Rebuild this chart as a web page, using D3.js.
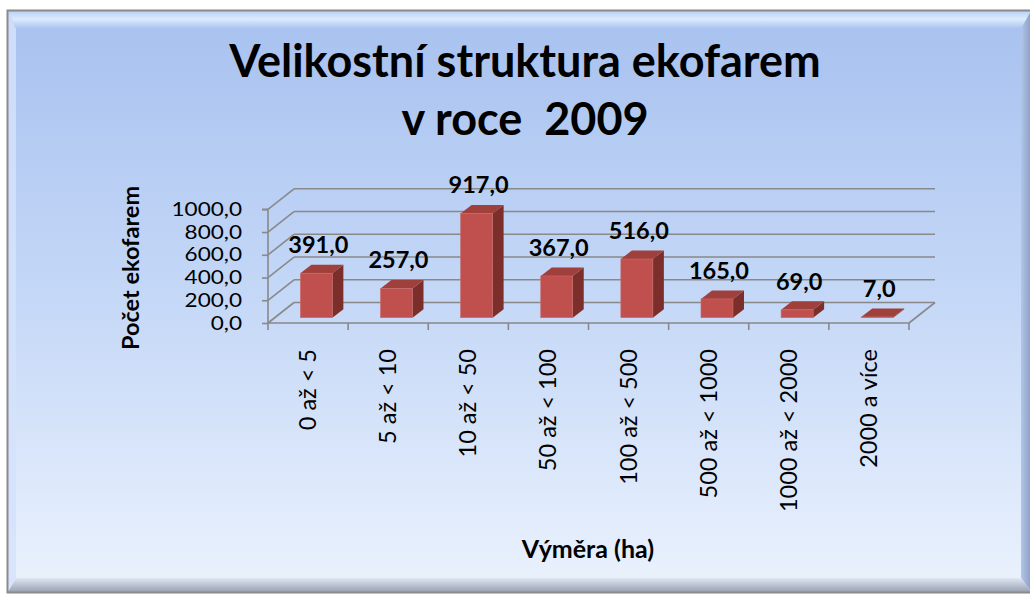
<!DOCTYPE html>
<html><head><meta charset="utf-8">
<script src="https://cdn.jsdelivr.net/npm/d3@7"></script>
<style>html,body{margin:0;padding:0;background:#fff;}svg{display:block;}</style>
</head><body>
<script>
const categories = ["0 až < 5","5 až < 10","10 až < 50","50 až < 100","100 až < 500","500 až < 1000","1000 až < 2000","2000 a více"];
const values = [391,257,917,367,516,165,69,7];
const yTicks = [0,200,400,600,800,1000];
const titleLines = ["Velikostní struktura ekofarem","v roce  2009"];
const yTitle = "Počet ekofarem";
const xTitle = "Výměra (ha)";

const W = 1030, H = 594;
const svg = d3.select("body").append("svg").attr("width", W).attr("height", H);
const defs = svg.append("defs");
const bg = defs.append("linearGradient").attr("id","bg").attr("x1",0).attr("y1",0).attr("x2",0).attr("y2",1);
bg.append("stop").attr("offset","0%").attr("stop-color","#a7c1ef");
bg.append("stop").attr("offset","50%").attr("stop-color","#c5d8f7");
bg.append("stop").attr("offset","100%").attr("stop-color","#ebf2fd");
const topB = defs.append("linearGradient").attr("id","topB").attr("x1",0).attr("y1",0).attr("x2",0).attr("y2",1);
topB.append("stop").attr("offset","0%").attr("stop-color","#b9d0f5");
topB.append("stop").attr("offset","45%").attr("stop-color","#dcebfd");
topB.append("stop").attr("offset","100%").attr("stop-color","#a9c2ef");
const botB = defs.append("linearGradient").attr("id","botB").attr("x1",0).attr("y1",0).attr("x2",0).attr("y2",1);
botB.append("stop").attr("offset","0%").attr("stop-color","#dfe7f5");
botB.append("stop").attr("offset","60%").attr("stop-color","#b5bccb");
botB.append("stop").attr("offset","100%").attr("stop-color","#9aa2b3");
const rightB = defs.append("linearGradient").attr("id","rightB").attr("x1",0).attr("y1",0).attr("x2",1).attr("y2",0);
rightB.append("stop").attr("offset","0%").attr("stop-color","#b2c6ea");
rightB.append("stop").attr("offset","100%").attr("stop-color","#8d9fc2");

// panel
const L = 8, T = 11, R = 1031, B = 592;
svg.append("rect").attr("x",L).attr("y",T).attr("width",R-L).attr("height",B-T).attr("fill","url(#bg)");
const bt = 18, bl = 8, br = 10, bb = 14;
svg.append("polygon").attr("points",`${L},${T} ${R},${T} ${R-br},${T+bt} ${L+bl},${T+bt}`).attr("fill","url(#topB)");
svg.append("polygon").attr("points",`${L},${T} ${L+bl},${T+bt} ${L+bl},${B-bb} ${L},${B}`).attr("fill","#d3e2fb").attr("opacity",0.85);
svg.append("polygon").attr("points",`${R},${T} ${R},${B} ${R-br},${B-bb} ${R-br},${T+bt}`).attr("fill","url(#rightB)");
svg.append("polygon").attr("points",`${L},${B} ${L+bl},${B-bb} ${R-br},${B-bb} ${R},${B}`).attr("fill","url(#botB)");
svg.append("rect").attr("x",L-0.5).attr("y",T-0.5).attr("width",R-L+2).attr("height",B-T+1).attr("fill","none").attr("stroke","#8a8a8a").attr("stroke-width",2);

const font = "Lato, 'Open Sans', sans-serif";

// title
svg.append("g").selectAll("text").data(titleLines).join("text")
  .attr("x", 525).attr("y", (d,i)=> i===0 ? 77 : 135)
  .attr("text-anchor","middle").attr("font-family",font).attr("font-weight","bold")
  .attr("font-size",45).attr("fill","#000").style("white-space","pre").text(d=>d);

// scales
const x = d3.scaleBand().domain(categories).range([268, 909]);
const y = d3.scaleLinear().domain([0,1000]).range([323, 209.3]);
const dX = 26, dY = -20.5;
const grid = "#898989";

const g = svg.append("g");
yTicks.forEach(t => {
  g.append("line").attr("x1",268).attr("y1",y(t)).attr("x2",268+dX).attr("y2",y(t)+dY)
    .attr("stroke",grid).attr("stroke-width",1.6);
  g.append("line").attr("x1",268+dX).attr("y1",y(t)+dY).attr("x2",909+dX).attr("y2",y(t)+dY)
    .attr("stroke",grid).attr("stroke-width",1.6);
});
g.append("line").attr("x1",909).attr("y1",y(0)).attr("x2",909+dX).attr("y2",y(0)+dY).attr("stroke",grid).attr("stroke-width",1.6);

// y axis
const sx = 1.2;
const yAxis = d3.axisLeft(y).tickValues(yTicks).tickSize(6).tickPadding(20)
  .tickFormat(d => d3.format(".1f")(d).replace(".", ","));
const ya = svg.append("g").attr("transform","translate(268,0)").call(yAxis);
ya.selectAll("path,line").attr("stroke",grid).attr("stroke-width",1.6);
ya.select(".domain").attr("d", `M-6,${y(1000)}H0V${y(0)}`);
ya.selectAll("text").attr("font-family",font).attr("font-size",18.8).attr("fill","#000")
  .attr("x", -26/sx).attr("transform", `scale(${sx},1)`);

// x axis
const xa = svg.append("g").attr("transform",`translate(0,${y(0)})`);
xa.append("line").attr("x1",268).attr("x2",909).attr("stroke",grid).attr("stroke-width",1.6);
const bounds = categories.map(c => x(c)).concat([x.range()[1]]);
xa.selectAll("line.tk").data(bounds).join("line").attr("class","tk")
  .attr("x1",d=>d).attr("x2",d=>d).attr("y1",0).attr("y2",7).attr("stroke",grid).attr("stroke-width",1.6);
xa.selectAll("text").data(categories).join("text")
  .attr("transform", d => `translate(${x(d)+x.bandwidth()/2+8},26) rotate(-90)`)
  .attr("text-anchor","end").attr("font-family",font).attr("font-size",23.5).attr("fill","#000").text(d=>d);

// bars
const bw = 32, off = 8.3, lift = 5.3, bdx = 11, bdy = -8.5;
const bars = svg.append("g");
categories.forEach((c,i) => {
  const v = values[i];
  const cx = x(c) + x.bandwidth()/2 + off;
  const x0 = cx - bw/2, x1 = cx + bw/2;
  const yb = y(0) - lift, yt = y(v) - lift;
  bars.append("polygon").attr("points",`${x1},${yt} ${x1+bdx},${yt+bdy} ${x1+bdx},${yb+bdy} ${x1},${yb}`).attr("fill","#7c2e2b");
  bars.append("polygon").attr("points",`${x0},${yt} ${x0+bdx},${yt+bdy} ${x1+bdx},${yt+bdy} ${x1},${yt}`).attr("fill","#9f403c");
  bars.append("rect").attr("x",x0).attr("y",yt).attr("width",bw).attr("height",Math.max(0,yb-yt)).attr("fill","#c0504d").attr("stroke","#cc6a67").attr("stroke-width",0.6);
  bars.append("text").attr("x",cx+2).attr("y",yt-20).attr("text-anchor","middle")
    .attr("font-family",font).attr("font-weight","bold").attr("font-size",23.5).attr("fill","#000")
    .text(d3.format(".1f")(v).replace(".", ","));
});

// axis titles
svg.append("text").attr("transform","translate(139,268) rotate(-90)").attr("text-anchor","middle")
  .attr("font-family",font).attr("font-weight","bold").attr("font-size",23.5).attr("fill","#000").text(yTitle);
svg.append("text").attr("x",588).attr("y",558).attr("text-anchor","middle")
  .attr("font-family",font).attr("font-weight","bold").attr("font-size",25).attr("fill","#000").text(xTitle);
</script>
</body></html>
